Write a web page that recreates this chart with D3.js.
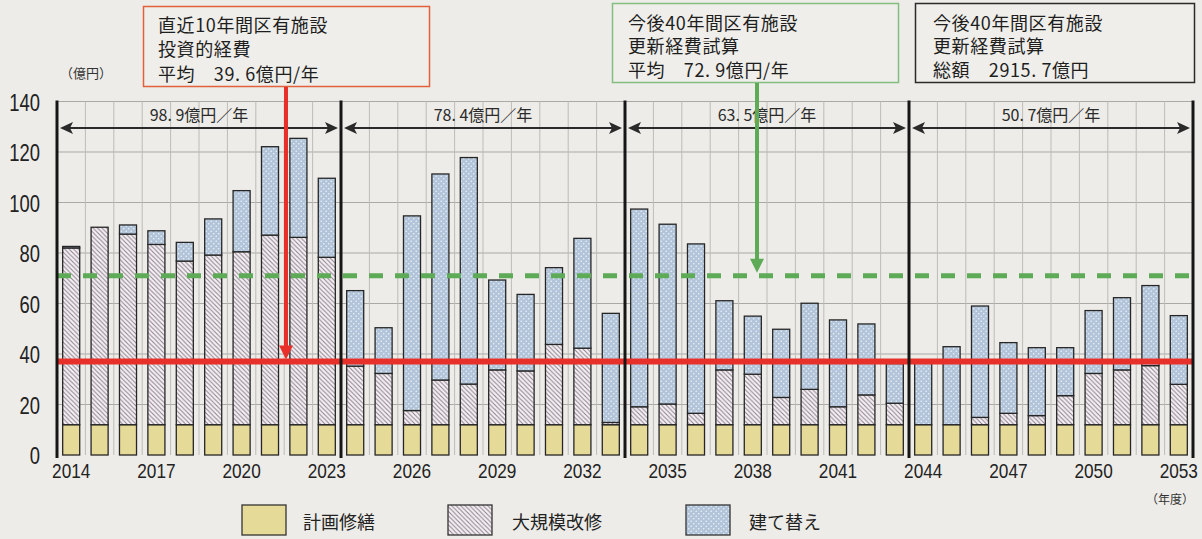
<!DOCTYPE html>
<html><head><meta charset="utf-8">
<script src="https://cdn.jsdelivr.net/npm/d3@7"></script>
<style>
body{margin:0;background:#edece8;}
svg{display:block;}
.cjk{font-family:"Noto Sans CJK JP","Noto Sans",sans-serif;}
.num{font-family:"Liberation Sans",Arial,sans-serif;}
</style></head>
<body>
<svg id="c" width="1202" height="539"></svg>
<script>
const years = [2014,2015,2016,2017,2018,2019,2020,2021,2022,2023,
               2024,2025,2026,2027,2028,2029,2030,2031,2032,2033,
               2034,2035,2036,2037,2038,2039,2040,2041,2042,2043,
               2044,2045,2046,2047,2048,2049,2050,2051,2052,2053];
const planned = [12,12,12,12,12,12,12,12,12,12, 12,12,12,12,12,12,12,12,12,12,
                 12,12,12,12,12,12,12,12,12,12, 12,12,12,12,12,12,12,12,12,12];
const largeScale = [70.0,78.2,75.5,71.4,64.8,67.2,68.5,75.1,74.2,66.3,
                    23.2,20.3,5.6,17.7,16.1,21.7,21.3,31.8,30.3,0.9,
                    7.1,8.2,4.5,21.7,20.0,10.8,14.0,7.1,11.8,8.5,
                    0,0,2.9,4.5,3.6,11.5,20.3,21.7,23.4,16.0];
const rebuild = [0.6,0,3.6,5.4,7.4,14.3,24.2,35.0,39.2,31.3,
                 29.9,18.1,77.1,81.6,89.7,35.6,30.3,30.4,43.5,43.2,
                 78.3,71.2,67.1,27.4,23.0,27.0,34.1,34.4,28.1,15.7,
                 24.8,30.9,44.1,28.0,26.9,19.0,24.9,28.6,31.7,27.2];
const seriesNames = ["計画修繕","大規模改修","建て替え"];
const yTicks = [0,20,40,60,80,100,120,140];
const xTickYears = [2014,2017,2020,2023,2026,2029,2032,2035,2038,2041,2044,2047,2050,2053];
const periodStart = [2014,2024,2034,2044];
const periodEnd = [2023,2033,2043,2053];
const periodLabels = ["98. 9億円／年","78. 4億円／年","63. 5億円／年","50. 7億円／年"];
const recentAvgLine = 37;   // red line as drawn
const futureAvgLine = 71;   // green dashed line as drawn
const redBoxLines = ["直近10年間区有施設","投資的経費","平均　39. 6億円/年"];
const greenBoxLines = ["今後40年間区有施設","更新経費試算","平均　72. 9億円/年"];
const blackBoxLines = ["今後40年間区有施設","更新経費試算","総額　2915. 7億円"];

const svg = d3.select("#c");
const defs = svg.append("defs");
const ph = defs.append("pattern").attr("id","hatch").attr("patternUnits","userSpaceOnUse")
  .attr("width",4.5).attr("height",4.5);
ph.append("rect").attr("width",4.5).attr("height",4.5).attr("fill","#f5f0f4");
ph.append("path").attr("d","M-1,-1L5.5,5.5M-1,3.5L1,5.5M3.5,-1L5.5,1")
  .attr("stroke","#8c808c").attr("stroke-width",1);
const pd = defs.append("pattern").attr("id","dots").attr("patternUnits","userSpaceOnUse")
  .attr("width",5).attr("height",5);
pd.append("rect").attr("width",5).attr("height",5).attr("fill","#b2c4d9");
pd.append("circle").attr("cx",1.2).attr("cy",1.2).attr("r",0.8).attr("fill","#eef2f6");
pd.append("circle").attr("cx",3.7).attr("cy",3.7).attr("r",0.8).attr("fill","#eef2f6");

const fills = ["#e6da98","url(#hatch)","url(#dots)"];

const x = d3.scaleBand().domain(years).range([57,1193]).paddingInner(0.4).paddingOuter(0.2);
const y = d3.scaleLinear().domain([0,140]).range([455,101.5]);
const step = x.step();
const boundary = yr => x(yr) + x.bandwidth()/2 - step/2;
const boundaryEnd = yr => x(yr) + x.bandwidth()/2 + step/2;

// grid
const g = svg.append("g");
g.selectAll(".hg").data(yTicks.filter(t=>t>0)).join("line")
  .attr("x1",57).attr("x2",1193).attr("y1",d=>y(d)).attr("y2",d=>y(d))
  .attr("stroke","#aaa9a6").attr("stroke-width",1);
g.selectAll(".vg").data(years).join("line")
  .attr("x1",d=>boundary(d)).attr("x2",d=>boundary(d)).attr("y1",y(140)).attr("y2",y(0))
  .attr("stroke","#bdbcb8").attr("stroke-width",1);

// stacked bars
const table = years.map((yr,i)=>({year:yr, a:planned[i], b:largeScale[i], c:rebuild[i]}));
const stack = d3.stack().keys(["a","b","c"])(table);
stack.forEach((layer,k)=>{
  svg.append("g").selectAll("rect").data(layer).join("rect")
    .attr("x",d=>x(d.data.year)).attr("width",x.bandwidth())
    .attr("y",d=>y(d[1])).attr("height",d=>Math.max(0,y(d[0])-y(d[1])))
    .attr("fill",fills[k]).attr("stroke","#262626").attr("stroke-width",d=>(d[1]-d[0])>0?1.3:0);
});

svg.append("line").attr("x1",57).attr("x2",1193).attr("y1",y(futureAvgLine)).attr("y2",y(futureAvgLine))
  .attr("stroke","#5daa57").attr("stroke-width",5).attr("stroke-dasharray","14,12");
svg.append("line").attr("x1",57).attr("x2",1193).attr("y1",y(recentAvgLine)).attr("y2",y(recentAvgLine))
  .attr("stroke","#e8302a").attr("stroke-width",6);

// dividers
const divs = periodStart.map(boundary).concat([boundaryEnd(periodEnd[3])]);
svg.selectAll(".dv").data(divs).join("line")
  .attr("x1",d=>d).attr("x2",d=>d).attr("y1",y(140)-1).attr("y2",y(0)+3)
  .attr("stroke","#161616").attr("stroke-width",3);

// period arrows
const arrY = 128;
periodStart.forEach((ps,i)=>{
  const x0 = boundary(ps)+3, x1 = boundaryEnd(periodEnd[i])-3;
  svg.append("line").attr("x1",x0+8).attr("x2",x1-8).attr("y1",arrY).attr("y2",arrY)
    .attr("stroke","#2a2a2a").attr("stroke-width",2.2);
  svg.append("path").attr("d",`M${x0},${arrY}L${x0+13},${arrY-6}L${x0+10},${arrY}L${x0+13},${arrY+6}Z`).attr("fill","#2a2a2a");
  svg.append("path").attr("d",`M${x1},${arrY}L${x1-13},${arrY-6}L${x1-10},${arrY}L${x1-13},${arrY+6}Z`).attr("fill","#2a2a2a");
  svg.append("text").attr("class","cjk").attr("x",(x0+x1)/2).attr("y",114)
    .attr("text-anchor","middle").attr("dominant-baseline","central")
    .attr("font-size",16).attr("fill","#2a2a2a").text(periodLabels[i]);
});

// y axis labels (narrowed)
svg.selectAll(".yl").data(yTicks).join("text").attr("class","num")
  .attr("transform",d=>`translate(40,${y(d)+1}) scale(0.8,1)`).attr("text-anchor","end").attr("dominant-baseline","central")
  .attr("font-size",23).attr("fill","#222").text(d=>d);
svg.append("text").attr("class","cjk").attr("x",86).attr("y",72).attr("text-anchor","middle")
  .attr("dominant-baseline","central").attr("font-size",13).attr("fill","#333").text("（億円）");

// x labels (narrowed)
svg.selectAll(".xl").data(xTickYears).join("text").attr("class","num")
  .attr("transform",d=>`translate(${x(d)+x.bandwidth()/2},471) scale(0.82,1)`).attr("text-anchor","middle").attr("dominant-baseline","central")
  .attr("font-size",21).attr("fill","#222").text(d=>d);
svg.append("text").attr("class","cjk").attr("x",1170).attr("y",498).attr("text-anchor","middle")
  .attr("dominant-baseline","central").attr("font-size",12).attr("fill","#333").text("（年度）");

// annotation boxes
function box(bx,by,bw,bh,stroke,lines,tx,ty){
  svg.append("rect").attr("x",bx).attr("y",by).attr("width",bw).attr("height",bh)
    .attr("fill","#efeeea").attr("stroke",stroke).attr("stroke-width",1.5);
  lines.forEach((t,i)=>svg.append("text").attr("class","cjk").attr("x",tx).attr("y",ty[i])
    .attr("dominant-baseline","central").attr("font-size",18).attr("letter-spacing",0.6)
    .attr("fill","#1e1e1e").text(t));
}
box(143.5,6.5,286,80,"#e2603c",redBoxLines,158,[23.5,48,73]);
box(612.5,3.5,286,79,"#84bd80",greenBoxLines,628,[21.5,45,69]);
box(915.5,3.5,279,79,"#2b2b2b",blackBoxLines,933,[21.5,45,69]);

// red vertical arrow
const rx = 286;
svg.append("line").attr("x1",rx).attr("x2",rx).attr("y1",87).attr("y2",y(recentAvgLine)-14)
  .attr("stroke","#e8302a").attr("stroke-width",4);
svg.append("path").attr("d",`M${rx-7},${y(recentAvgLine)-16}L${rx+7},${y(recentAvgLine)-16}L${rx},${y(recentAvgLine)-2}Z`).attr("fill","#e8302a");
// green vertical arrow
const gx = 757;
svg.append("line").attr("x1",gx).attr("x2",gx).attr("y1",83).attr("y2",y(futureAvgLine)-14)
  .attr("stroke","#5daa57").attr("stroke-width",4);
svg.append("path").attr("d",`M${gx-7},${y(futureAvgLine)-17}L${gx+7},${y(futureAvgLine)-17}L${gx},${y(futureAvgLine)-3}Z`).attr("fill","#5daa57");

// legend
const lg = [{x:242,tx:303},{x:448,tx:512},{x:686,tx:749}];
lg.forEach((l,i)=>{
  svg.append("rect").attr("x",l.x).attr("y",505).attr("width",44).attr("height",30)
    .attr("fill",fills[i]).attr("stroke","#333").attr("stroke-width",1.3);
  svg.append("text").attr("class","cjk").attr("x",l.tx).attr("y",521).attr("dominant-baseline","central")
    .attr("font-size",18).attr("fill","#222").text(seriesNames[i]);
});
</script>
</body></html>
